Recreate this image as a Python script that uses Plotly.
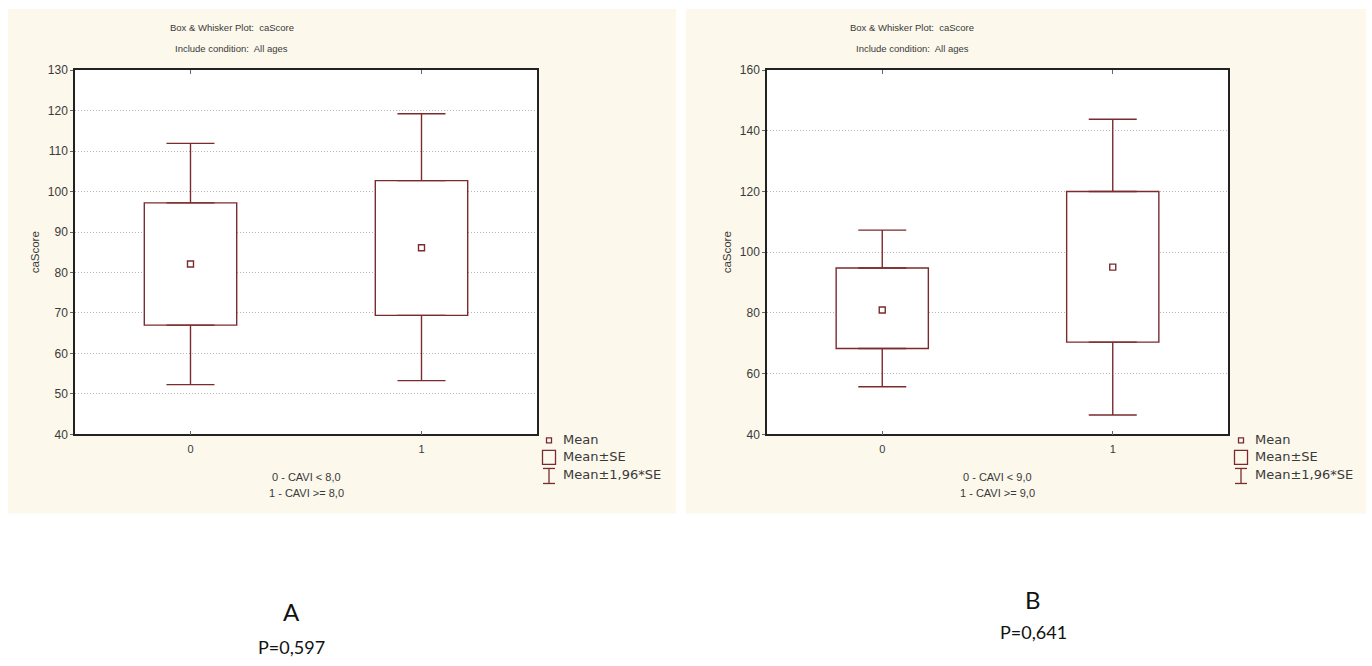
import plotly.graph_objects as go

W, H = 1372, 666

# ---------------- data ----------------
groups = [0, 1]
group_labels = ["0", "1"]

# Panel A
a_mean = [82.1, 86.1]
a_se_low = [67.0, 69.4]
a_se_high = [97.2, 102.7]
a_ci_low = [52.3, 53.3]
a_ci_high = [111.9, 119.2]
a_yticks = [40, 50, 60, 70, 80, 90, 100, 110, 120, 130]

# Panel B
b_mean = [81.0, 95.1]
b_se_low = [68.3, 70.4]
b_se_high = [94.8, 120.0]
b_ci_low = [55.7, 46.4]
b_ci_high = [107.3, 143.8]
b_yticks = [40, 60, 80, 100, 120, 140, 160]

title_line1 = "Box & Whisker Plot:  caScore"
title_line2 = "Include condition:  All ages"
a_xnote = ["0 - CAVI < 8,0", "1 - CAVI >= 8,0"]
b_xnote = ["0 - CAVI < 9,0", "1 - CAVI >= 9,0"]
legend_labels = ["Mean", "Mean±SE", "Mean±1,96*SE"]
panel_letters = ["A", "B"]
p_values = ["P=0,597", "P=0,641"]

# ---------------- styling ----------------
RED = "#7a2b2e"
CREAM = "#fcf8ec"
FONT = "Liberation Sans, Arial, sans-serif"
LEGFONT = "DejaVu Sans, Verdana, sans-serif"
TXT = "#3a3a3a"


def px(x):
    return x / W


def py(y):
    # vertical layout position (pixels from top) -> paper fraction
    yy = (y - 6) / 0.978
    return 1 - yy / H


fig = go.Figure()


def add_panel(xa, ya, mean, se_lo, se_hi, ci_lo, ci_hi):
    # upper whisker
    fig.add_trace(go.Scatter(
        x=groups, y=se_hi, mode="markers", marker=dict(size=0.1, color=RED, opacity=0),
        error_y=dict(type="data", symmetric=False,
                     array=[h - s for h, s in zip(ci_hi, se_hi)],
                     arrayminus=[0, 0], color=RED, thickness=1.4, width=24),
        xaxis=xa, yaxis=ya, showlegend=False, hoverinfo="skip"))
    # lower whisker
    fig.add_trace(go.Scatter(
        x=groups, y=se_lo, mode="markers", marker=dict(size=0.1, color=RED, opacity=0),
        error_y=dict(type="data", symmetric=False,
                     array=[0, 0],
                     arrayminus=[s - l for s, l in zip(se_lo, ci_lo)],
                     color=RED, thickness=1.4, width=24),
        xaxis=xa, yaxis=ya, showlegend=False, hoverinfo="skip"))
    # box mean +- SE
    fig.add_trace(go.Bar(
        x=groups, y=[h - l for h, l in zip(se_hi, se_lo)], base=se_lo, width=0.4,
        marker=dict(color="white", line=dict(color=RED, width=1.4)),
        xaxis=xa, yaxis=ya, showlegend=False))
    # mean marker
    fig.add_trace(go.Scatter(
        x=groups, y=mean, mode="markers",
        marker=dict(symbol="square-open", size=6, color=RED, line=dict(width=1.4, color=RED)),
        xaxis=xa, yaxis=ya, showlegend=False))


add_panel("x", "y", a_mean, a_se_low, a_se_high, a_ci_low, a_ci_high)
add_panel("x2", "y2", b_mean, b_se_low, b_se_high, b_ci_low, b_ci_high)

# plot-area geometry (reference pixels)
A_box = (75, 537, 69, 433)
B_box = (767, 1228, 69, 433)

axis_common_x = dict(range=[-0.5, 1.5], tickvals=groups, ticktext=group_labels,
                     showgrid=False, zeroline=False, showline=True, linecolor="#222",
                     linewidth=1.5, mirror="ticks", ticks="inside", ticklen=4, tickcolor="#666",
                     ticklabelstandoff=4,
                     tickfont=dict(family=FONT, size=11, color=TXT))
axis_common_y = dict(showgrid=True, gridcolor="#b5b5b5", griddash="1px,2px", gridwidth=1,
                     zeroline=False, showline=True, linecolor="#222", linewidth=1.5,
                     mirror=True, ticks="outside", ticklen=3, tickcolor="#666",
                     tickfont=dict(family=FONT, size=12, color=TXT),
                     title=dict(text="caScore", font=dict(family=FONT, size=11.5, color=TXT),
                                standoff=6))

fig.update_layout(
    width=W, height=H,
    margin=dict(l=0, r=0, t=0, b=0),
    paper_bgcolor="white", plot_bgcolor="white",
    barmode="overlay",
    xaxis=dict(domain=[px(A_box[0]), px(A_box[1])], anchor="y", **axis_common_x),
    yaxis=dict(domain=[py(A_box[3]), py(A_box[2])], anchor="x", range=[40, 130],
               tickvals=a_yticks, **axis_common_y),
    xaxis2=dict(domain=[px(B_box[0]), px(B_box[1])], anchor="y2", **axis_common_x),
    yaxis2=dict(domain=[py(B_box[3]), py(B_box[2])], anchor="x2", range=[40, 160],
                tickvals=b_yticks, **axis_common_y),
)

shapes = []
annotations = []

# cream panel backgrounds + white plot areas
for (x0, x1, y0, y1), box in [((8, 676, 8, 512), A_box), ((686, 1366, 8, 512), B_box)]:
    shapes.append(dict(type="rect", xref="paper", yref="paper", layer="below",
                       x0=px(x0), x1=px(x1), y0=py(y1), y1=py(y0),
                       fillcolor=CREAM, line=dict(width=0)))
    shapes.append(dict(type="rect", xref="paper", yref="paper", layer="below",
                       x0=px(box[0]), x1=px(box[1]), y0=py(box[3]), y1=py(box[2]),
                       fillcolor="white", line=dict(width=0)))


def ann(x, y, text, size=10, xanchor="center", family=FONT, color=TXT):
    annotations.append(dict(x=px(x), y=py(y), xref="paper", yref="paper", text=text,
                            showarrow=False, xanchor=xanchor, yanchor="middle",
                            font=dict(family=family, size=size, color=color)))


for cx, box, notes, icx in [(232, A_box, a_xnote, 549), (912, B_box, b_xnote, 1241)]:
    ann(cx, 26, title_line1, size=9.5)
    ann(cx, 47, title_line2, size=9.5)
    mid = (box[0] + box[1]) / 2
    ann(mid, 476, notes[0], size=11)
    ann(mid, 492, notes[1], size=11)
    # legend
    shapes.append(dict(type="rect", xref="paper", yref="paper",
                       x0=px(icx - 2.5), x1=px(icx + 2.5), y0=py(441.5), y1=py(436.5),
                       line=dict(color=RED, width=1.3), fillcolor="rgba(0,0,0,0)"))
    shapes.append(dict(type="rect", xref="paper", yref="paper",
                       x0=px(icx - 6.5), x1=px(icx + 6.5), y0=py(463), y1=py(449),
                       line=dict(color=RED, width=1.3), fillcolor="rgba(0,0,0,0)"))
    shapes.append(dict(type="line", xref="paper", yref="paper",
                       x0=px(icx), x1=px(icx), y0=py(482), y1=py(467),
                       line=dict(color=RED, width=1.3)))
    for yy in (467, 482):
        shapes.append(dict(type="line", xref="paper", yref="paper",
                           x0=px(icx - 6), x1=px(icx + 6), y0=py(yy), y1=py(yy),
                           line=dict(color=RED, width=1.3)))
    ann(icx + 12, 438, legend_labels[0], size=13, xanchor="left", family=LEGFONT)
    ann(icx + 12, 455, legend_labels[1], size=13, xanchor="left", family=LEGFONT)
    ann(icx + 12, 473, legend_labels[2], size=13, xanchor="left", family=LEGFONT)

# bottom labels
LFONT = "Lato, Open Sans, sans-serif"
ann(291, 610, panel_letters[0], size=24, family=LFONT, color="#111")
ann(291, 645, p_values[0], size=18, family=LFONT, color="#111")
ann(1033, 598, panel_letters[1], size=24, family=LFONT, color="#111")
ann(1033, 630, p_values[1], size=18, family=LFONT, color="#111")

fig.update_layout(shapes=shapes, annotations=annotations)
fig.write_html("out.html", config={"displayModeBar": False},
               post_script="document.body.style.margin='0';document.body.style.overflow='hidden';")
